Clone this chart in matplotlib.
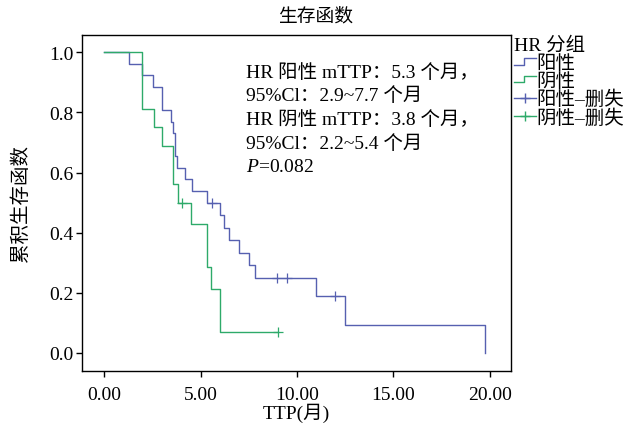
import matplotlib
matplotlib.use("Agg")
import matplotlib.pyplot as plt
from matplotlib.lines import Line2D
from matplotlib.legend_handler import HandlerBase

plt.rcParams['font.family'] = ['Liberation Serif', 'Noto Sans CJK SC']
plt.rcParams['mathtext.fontset'] = 'custom'
plt.rcParams['mathtext.it'] = 'Liberation Serif:italic'
plt.rcParams['mathtext.rm'] = 'Liberation Serif'

# HR positive group: step times (months) and survival after each step
pos_t = [0, 1.30, 1.97, 2.51, 3.01, 3.46, 3.58, 3.67, 3.75, 4.21, 4.53, 5.31,
         6.00, 6.21, 6.48, 7.00, 7.49, 7.82, 10.98, 12.48, 19.75]
pos_s = [1.0, 0.962, 0.923, 0.885, 0.808, 0.769, 0.731, 0.654, 0.615, 0.577, 0.538, 0.500,
         0.458, 0.417, 0.375, 0.333, 0.292, 0.250, 0.188, 0.094, 0.0]
pos_cens_t = [5.60, 8.97, 9.46, 11.98]
pos_cens_s = [0.500, 0.250, 0.250, 0.188]

# HR negative group
neg_t = [0, 1.97, 2.59, 2.98, 3.55, 3.84, 4.50, 5.31, 5.52, 6.00]
neg_s = [1.0, 0.8125, 0.750, 0.6875, 0.5625, 0.500, 0.429, 0.286, 0.214, 0.071]
neg_cens_t = [4.01, 9.03]
neg_cens_s = [0.500, 0.071]

blue = '#5660b0'
green = '#2eaa6a'

annot_lines = ["HR 阳性 mTTP：5.3 个月，",
               "95%Cl：2.9~7.7 个月",
               "HR 阴性 mTTP：3.8 个月，",
               "95%Cl：2.2~5.4 个月",
               r"$\mathit{P}$=0.082"]


class StepHandler(HandlerBase):
    # legend key drawn like a little survival step
    def create_artists(self, legend, orig_handle, xdescent, ydescent,
                       width, height, fontsize, trans):
        x = [-xdescent, width * 0.45, width * 0.45, width]
        y = [height * 0.25, height * 0.25, height * 0.75, height * 0.75]
        ln = Line2D(x, y, color=orig_handle.get_color(), lw=1.0)
        ln.set_transform(trans)
        return [ln]


fig = plt.figure(figsize=(6.31, 4.27), dpi=100)
ax = fig.add_axes([0.1295, 0.1295, 0.6803, 0.7869])

# curves
l_pos, = ax.step(pos_t, pos_s, where='post', color=blue, lw=1.0)
l_neg, = ax.step(neg_t + [neg_cens_t[-1]], neg_s + [neg_s[-1]], where='post',
                 color=green, lw=1.0)
c_pos, = ax.plot(pos_cens_t, pos_cens_s, '+', color=blue, ms=7, mew=0.9)
c_neg, = ax.plot(neg_cens_t, neg_cens_s, '+', color=green, ms=7, mew=0.9)

ax.set_xlim(-1.17, 21.1)
ax.set_ylim(-0.059, 1.0585)
ax.set_xticks([0, 5, 10, 15, 20])
ax.set_xticklabels(["0.00", "5.00", "10.00", "15.00", "20.00"])
ax.set_yticks([0.0, 0.2, 0.4, 0.6, 0.8, 1.0])
ax.set_yticklabels(["0.0", "0.2", "0.4", "0.6", "0.8", "1.0"])
ax.tick_params(labelsize=14, length=4, width=1, pad=2)
ax.tick_params(axis='x', pad=7)
for sp in ax.spines.values():
    sp.set_linewidth(1.0)

ax.set_xlabel("TTP(月)", fontsize=14, labelpad=0)
ax.set_ylabel("累积生存函数", fontsize=14, labelpad=14)
fig.text(0.5, 0.962, "生存函数", ha='center', va='center', fontsize=13.5)

# annotation text, one line at a time
for i, s in enumerate(annot_lines):
    ax.text(0.383, 0.875 - i * 0.0705, s, transform=ax.transAxes,
            fontsize=14, va='baseline', ha='left')

leg_pos = Line2D([], [], color=blue)
leg_neg = Line2D([], [], color=green)
h_cp = Line2D([], [], color=blue, marker='+', ms=7, lw=1.0)
h_cn = Line2D([], [], color=green, marker='+', ms=7, lw=1.0)
fig.legend([leg_pos, leg_neg, h_cp, h_cn], ["阳性", "阴性", "阳性–删失", "阴性–删失"],
           title="HR 分组", loc='upper left', bbox_to_anchor=(0.815, 0.912),
           frameon=False, fontsize=14, title_fontsize=14, labelspacing=0.0,
           handlelength=1.1, handletextpad=0.05, borderpad=0, borderaxespad=0,
           handler_map={leg_pos: StepHandler(), leg_neg: StepHandler()})
fig.legends[0]._legend_box.align = "left"

fig.savefig("out.png", dpi=100)
